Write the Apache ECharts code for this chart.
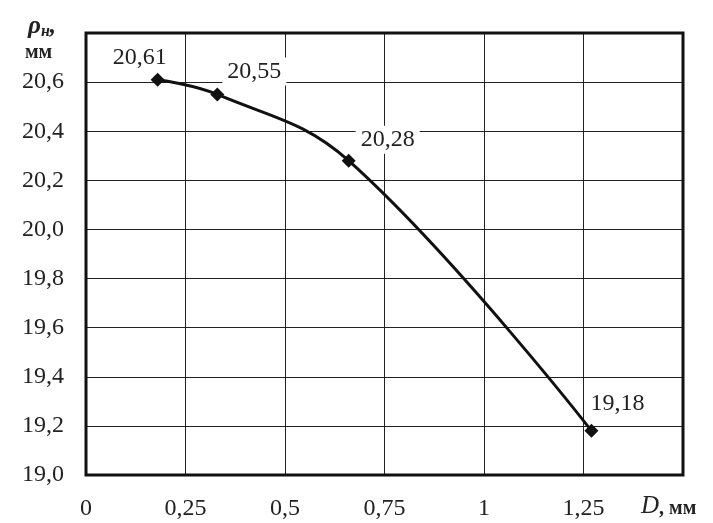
<!DOCTYPE html>
<html>
<head>
<meta charset="utf-8">
<script src="https://cdn.jsdelivr.net/npm/echarts@6/dist/echarts.min.js"></script>
<style>
html,body{margin:0;padding:0;background:#fff;}
#main{width:713px;height:523px;}
</style>
</head>
<body>
<div id="main"></div>
<script>
// данные графика
var dValues=[0.18,0.33,0.66,1.27];
var rhoValues=[20.61,20.55,20.28,19.18];
var labelText=['20,61','20,55','20,28','19,18'];
var labelShift=[[-18,-22],[37,-23],[39,-21],[26,-27]];

var myChart=echarts.init(document.getElementById('main'));
var font='Liberation Serif';

var points=[];
for(var i=0;i<dValues.length;i++){
	points.push({
		value:[dValues[i],rhoValues[i]],
		label:{formatter:labelText[i],offset:labelShift[i]}
	});
}

var option={
	animation:false,
	grid:{left:86,top:33,right:30,bottom:48,show:true,borderColor:'#111',borderWidth:3,backgroundColor:'transparent',z:3},
	xAxis:{
		type:'value',min:0,max:1.5,interval:0.25,
		axisLine:{show:false},axisTick:{show:false},
		splitLine:{lineStyle:{color:'#222',width:1}},
		axisLabel:{
			color:'#222',fontFamily:font,fontSize:24,margin:22,
			formatter:function(v){ if(v>1.4) return ''; return String(v).replace('.',','); }
		}
	},
	yAxis:{
		type:'value',min:19,max:20.8,interval:0.2,
		axisLine:{show:false},axisTick:{show:false},
		splitLine:{lineStyle:{color:'#222',width:1}},
		axisLabel:{
			color:'#222',fontFamily:font,fontSize:24,margin:22,
			formatter:function(v){ if(v>20.7) return ''; return v.toFixed(1).replace('.',','); }
		}
	},
	graphic:[
		{type:'text',left:28,top:14,style:{
			text:'{r|ρ}{s|н}{r|,}',
			rich:{
				r:{fontFamily:font,fontSize:25,fontStyle:'italic',fontWeight:'bold',fill:'#222'},
				s:{fontFamily:font,fontSize:16,fontStyle:'italic',fontWeight:'bold',fill:'#222',padding:[10,0,0,0]}
			}
		}},
		{type:'text',left:25,top:43,style:{text:'мм',fontFamily:font,fontSize:20,fontWeight:'bold',fill:'#222'}},
		{type:'text',left:641,top:494,style:{
			text:'{d|D}{m|, мм}',
			rich:{
				d:{fontFamily:font,fontSize:25,fontStyle:'italic',fill:'#222'},
				m:{fontFamily:font,fontSize:20,fontWeight:'bold',fill:'#222',padding:[4,0,0,0]}
			}
		}}
	],
	series:[{
		type:'line',
		data:points,
		smooth:0.4,
		symbol:'diamond',
		symbolSize:14,
		z:5,
		itemStyle:{color:'#111'},
		lineStyle:{color:'#111',width:3},
		label:{
			show:true,position:'inside',
			fontFamily:font,fontSize:24,color:'#222',
			backgroundColor:'#fff',padding:[2,5]
		}
	}]
};
myChart.setOption(option);
</script>
</body>
</html>
